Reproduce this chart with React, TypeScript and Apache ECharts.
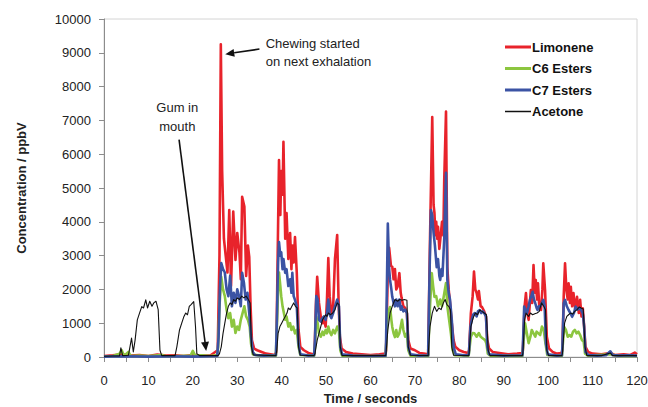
import React, { useEffect, useRef } from "react";
import * as echarts from "echarts";

const seriesNames = ["Limonene", "C6 Esters", "C7 Esters", "Acetone"];
const seriesColors = ["#e8232b", "#8cc63f", "#3b53a4", "#111111"];
const xTicks = { min: 0, max: 120, interval: 5, labelEvery: 10 };
const yTicks = { min: 0, max: 10000, interval: 1000 };

const limonene: [number, number][] = [
  [0,30],[2,50],[4,80],[6,40],[8,60],[10,30],[12,70],[14,40],[16,50],[18,30],[20,60],[22,40],[24,50],[25.6,200],
  [26.0,3000],[26.3,9250],[26.6,5500],[27.0,3500],[27.4,3000],[27.8,2500],[28.2,4350],[28.6,2100],[29.1,4300],[29.6,2870],[30.0,3670],[30.5,3080],[30.8,2300],[31.1,4740],[31.6,4450],[32.0,2400],[32.4,3300],[32.7,2960],[33.0,1500],[33.3,500],[33.8,250],[34.5,200],[35.5,150],[36.5,100],[37.5,80],[38.5,60],
  [38.8,150],[39.1,3000],[39.4,5830],[39.7,4200],[39.9,5500],[40.2,4800],[40.4,6370],[40.8,3500],[41.1,4260],[41.5,2900],[41.9,3670],[42.2,2600],[42.4,3300],[42.7,2800],[43.0,3550],[43.4,2500],[43.8,800],[44.2,300],[45,200],[46,120],[47,80],
  [47.4,100],[47.7,1500],[48.0,2370],[48.4,1600],[48.8,1200],[49.2,1000],[49.5,1100],[49.9,900],[50.2,1700],[50.5,2930],[50.8,1800],[51.2,1300],[51.6,1500],[52.0,2900],[52.5,3610],[52.8,1700],[53.1,600],[53.5,250],[54.5,150],[56,100],[58,80],[60,60],[62,80],[63.4,100],
  [63.5,200],[63.9,2500],[64.2,3230],[64.6,2700],[64.9,2670],[65.2,2300],[65.5,2600],[65.8,2000],[66.1,2080],[66.5,2480],[66.8,1900],[67.0,1750],[67.4,1500],[67.8,1450],[68.2,1300],[68.5,500],[69,250],[70,200],[71,120],[72,100],[73,80],
  [73.0,200],[73.4,3500],[73.9,7100],[74.2,4500],[74.4,4260],[74.6,3600],[74.8,4000],[75.0,3500],[75.2,3850],[75.5,3200],[75.7,3460],[76.1,4000],[76.4,3600],[76.6,5240],[77.0,7260],[77.3,2660],[77.6,2000],[77.9,1600],[78.3,1000],[78.7,500],[79.1,300],[80,200],[81,150],[82,120],
  [82.2,200],[82.6,1300],[83.0,1800],[83.3,2525],[83.6,2000],[83.9,1890],[84.2,1700],[84.4,1950],[84.8,1500],[85.1,1480],[85.6,1350],[86.0,1200],[86.3,500],[86.7,250],[87.5,150],[89,120],[91,80],[93,100],[94.2,120],
  [94.3,200],[94.7,1500],[95.0,1890],[95.3,1300],[95.6,1100],[96.1,1980],[96.4,1600],[96.7,2720],[97.0,1900],[97.2,2280],[97.5,1700],[97.7,2180],[98.0,1500],[98.4,1390],[98.7,2000],[98.9,2770],[99.3,1980],[99.7,600],[100.2,250],[101,150],[102,100],[103,120],
  [103.2,200],[103.5,1800],[103.8,2770],[104.1,2000],[104.4,1700],[104.6,2180],[104.9,1600],[105.1,2080],[105.4,1500],[105.7,1890],[106.1,1400],[106.5,1780],[106.9,1300],[107.2,1690],[107.5,1200],[107.8,1440],[108.1,900],[108.4,300],[109,150],[110,100],[112,80],[114,120],[115,60],[117,80],[118.5,60],[119.5,130],[120,80]
];

const c6Esters: [number, number][] = [
  [0,20],[2,30],[3.5,100],[4,200],[4.5,30],[5.5,150],[6,30],[8,40],[10,30],[13,60],[14,20],[17,30],[19.5,40],[20,180],[20.5,40],[22,50],[24,30],[25.5,60],
  [25.7,300],[26.0,1500],[26.4,2370],[26.8,2000],[27.2,1800],[27.6,1400],[28.0,1150],[28.4,1300],[28.8,900],[29.2,1100],[29.6,710],[30.0,900],[30.4,800],[30.8,1100],[31.2,1300],[31.6,1500],[32.0,1200],[32.4,1100],[32.8,900],[33.1,400],[33.5,80],[35,40],[38.7,40],
  [38.9,800],[39.2,2000],[39.4,2500],[39.7,2100],[39.9,1800],[40.2,1500],[40.5,1300],[40.8,1100],[41.1,1200],[41.5,900],[41.9,1000],[42.2,800],[42.6,900],[43.0,700],[43.4,800],[43.8,300],[44.2,60],[47.3,40],
  [47.5,300],[47.8,1200],[48.1,1000],[48.4,700],[48.8,600],[49.2,750],[49.5,650],[49.9,800],[50.2,700],[50.5,900],[50.8,750],[51.2,650],[51.6,800],[52.0,700],[52.5,900],[52.9,750],[53.2,200],[53.6,40],[58,30],[63.4,30],
  [63.5,300],[63.9,1300],[64.4,1480],[64.7,1100],[64.9,890],[65.2,700],[65.5,590],[65.8,800],[66.1,600],[66.5,700],[66.8,900],[67.1,1100],[67.4,800],[67.8,600],[68.2,700],[68.5,200],[69,40],[73,30],
  [73.0,200],[73.4,1500],[73.8,2480],[74.1,2100],[74.4,1780],[74.8,1800],[75.2,1500],[75.7,1700],[76.1,1500],[76.5,1800],[77.0,2190],[77.3,1500],[77.7,1100],[78.1,700],[78.5,200],[79,50],[82.1,40],
  [82.2,150],[82.6,600],[83.0,710],[83.4,700],[83.9,600],[84.4,710],[84.8,600],[85.3,550],[85.8,500],[86.1,400],[86.4,100],[87,40],[94.2,30],
  [94.3,200],[94.8,1000],[95.2,700],[95.6,410],[96.0,600],[96.3,800],[96.7,700],[97.1,600],[97.4,750],[97.8,700],[98.2,650],[98.6,900],[99.0,800],[99.4,400],[99.8,60],[103.1,30],
  [103.2,200],[103.6,890],[104.0,800],[104.4,600],[104.8,650],[105.2,600],[105.6,750],[106.0,800],[106.4,700],[106.8,750],[107.2,650],[107.6,500],[108.0,450],[108.3,100],[109,40],[114,80],[116,30],[120,30]
];

const c7Esters: [number, number][] = [
  [0,10],[5,20],[10,10],[15,20],[20,10],[25.5,30],
  [25.8,600],[26.1,2000],[26.4,2780],[26.8,2600],[27.2,2500],[27.6,2000],[28.0,1800],[28.4,2400],[28.8,1500],[29.2,1900],[29.6,1600],[30.0,2000],[30.4,1800],[30.8,1500],[31.1,2490],[31.5,2200],[31.9,1700],[32.3,1900],[32.7,1300],[33.1,600],[33.5,150],[34,60],[36,40],[38.7,50],
  [38.9,1000],[39.2,2800],[39.4,3400],[39.7,3000],[39.9,3100],[40.2,2600],[40.4,2900],[40.8,2490],[41.1,2600],[41.5,2100],[41.9,2300],[42.2,1900],[42.4,2490],[42.7,1800],[43.0,1690],[43.4,1500],[43.8,400],[44.2,80],[46,40],[47.3,50],
  [47.5,500],[47.8,1800],[48.1,1700],[48.4,1100],[48.8,1050],[49.2,1150],[49.5,1200],[49.9,1100],[50.2,1300],[50.5,1700],[50.8,1250],[51.2,1150],[51.6,1300],[52.0,1500],[52.5,1700],[52.9,1500],[53.2,300],[53.6,80],[56,40],[60,30],[63.4,40],
  [63.5,400],[63.9,3950],[64.2,2600],[64.4,2280],[64.7,2000],[64.9,1780],[65.2,1600],[65.5,1500],[65.8,1700],[66.1,1500],[66.5,1700],[66.8,1400],[67.0,1500],[67.4,1350],[67.8,1400],[68.2,1300],[68.5,300],[69,80],[71,40],[73,50],
  [73.0,300],[73.3,2500],[73.6,4350],[73.9,4200],[74.2,3670],[74.5,3300],[74.9,2660],[75.2,2900],[75.5,2400],[75.7,2280],[76.0,2600],[76.2,2400],[76.6,3500],[77.0,5450],[77.3,2280],[77.6,1900],[77.9,1700],[78.3,1100],[78.7,300],[79.2,80],[81,50],[82.1,60],
  [82.2,200],[82.5,900],[82.8,1100],[83.1,1250],[83.5,1300],[83.9,1200],[84.2,1350],[84.6,1390],[84.9,1300],[85.3,1350],[85.6,1300],[86.0,1200],[86.3,300],[86.7,80],[90,40],[94.2,50],
  [94.3,300],[94.6,1490],[94.9,1400],[95.2,1290],[95.6,1500],[95.9,1690],[96.2,1800],[96.5,1930],[96.8,1700],[97.1,1590],[97.4,1450],[97.6,1390],[97.9,1500],[98.2,1490],[98.6,1600],[98.9,1690],[99.2,1500],[99.5,400],[99.9,80],[102,40],[103.1,50],
  [103.2,300],[103.5,1590],[103.8,1690],[104.2,1500],[104.6,1390],[105.0,1300],[105.4,1190],[105.8,1300],[106.2,1490],[106.6,1400],[107.0,1450],[107.4,1390],[107.8,1290],[108.1,900],[108.4,150],[109,60],[111,40],[113,50],[114,170],[114.5,60],[116,40],[118,50],[120,40]
];

const acetone: [number, number][] = [
  [0,20],[2,30],[3.5,30],[3.8,270],[4.2,40],[5.5,50],[6.2,560],[6.6,150],[7.0,500],[7.5,1100],[8.0,1300],[8.5,1490],[8.9,1450],[9.4,1690],[9.8,1450],[10.3,1650],[10.8,1500],[11.2,1600],[11.7,1650],[12.2,1400],[12.6,200],[13,40],[16,40],
  [16.4,300],[17,800],[17.5,1000],[18,1200],[18.4,1300],[18.8,1250],[19.2,1500],[19.6,1550],[20.2,1640],[20.6,900],[20.9,100],[21.5,40],[25.7,40],
  [26.0,100],[26.4,300],[26.8,700],[27.2,1000],[27.6,1300],[28.0,1500],[28.4,1600],[28.8,1550],[29.2,1700],[29.6,1650],[30.0,1750],[30.5,1700],[31.0,1800],[31.5,1750],[32.0,1800],[32.5,1700],[32.9,1600],[33.2,300],[33.6,60],[38.7,40],
  [38.9,200],[39.2,700],[39.6,900],[40.0,1000],[40.4,1100],[40.8,1200],[41.2,1300],[41.5,1450],[41.9,1400],[42.3,1500],[42.7,1600],[43.1,1500],[43.5,1450],[43.8,300],[44.2,50],[47.3,40],
  [47.5,100],[48.0,500],[48.4,700],[48.8,900],[49.2,1100],[49.5,1170],[49.9,1250],[50.2,1200],[50.5,1300],[51.0,1250],[51.5,1300],[52.0,1400],[52.5,1600],[52.9,1550],[53.2,300],[53.6,40],[63.4,40],
  [63.5,100],[63.9,800],[64.4,1300],[64.9,1500],[65.5,1700],[66.1,1650],[66.6,1700],[67.1,1680],[67.6,1700],[68.2,1680],[68.5,300],[69,50],[73,40],
  [73.0,100],[73.4,900],[73.9,1300],[74.4,1500],[74.9,1350],[75.4,1450],[75.9,1400],[76.4,1600],[76.8,1700],[77.2,1550],[77.6,1500],[78.0,1400],[78.3,300],[78.7,50],[82.1,40],
  [82.2,100],[82.6,900],[83.1,1150],[83.6,1300],[84.1,1250],[84.6,1390],[85.1,1350],[85.6,1300],[86.1,1250],[86.5,200],[86.9,40],[94.2,40],
  [94.3,100],[94.7,1100],[95.0,1300],[95.6,1200],[96.0,1300],[96.5,1250],[97.0,1280],[97.5,1300],[98.0,1350],[98.5,1600],[99.0,1500],[99.4,1400],[99.7,200],[100.1,40],[103.1,40],
  [103.2,100],[103.7,1000],[104.2,1200],[104.6,1250],[105.0,1300],[105.5,1270],[106.0,1350],[106.5,1400],[107.0,1480],[107.4,1450],[107.9,1420],[108.3,300],[108.7,40],[112,40],[114,120],[114.5,40],[120,40]
];

// annotation anchors in data coordinates [time, ppbV]
const chewText = ["Chewing started", "on next exhalation"];
const chewTextPos: [number, number] = [36.4, 9530];
const chewArrow: [[number, number], [number, number]] = [[35.0, 9110], [27.3, 8960]];
const gumText = ["Gum in", "mouth"];
const gumTextPos: [number, number] = [16.5, 7670];
const gumArrow: [[number, number], [number, number]] = [[16.9, 6430], [23.0, 180]];

const FONT = "'Liberation Sans', Arial, sans-serif";
const widths = [2.6, 2.6, 2.6, 1.1];

export default function App() {
  const ref = useRef<HTMLDivElement>(null);
  useEffect(() => {
    if (!ref.current) return;
    const chart = echarts.init(ref.current, null, { renderer: "svg" });
    const all = [limonene, c6Esters, c7Esters, acetone];
    chart.setOption({
      animation: false,
      backgroundColor: "#ffffff",
      grid: {
        left: 104, right: 11, top: 19, bottom: 50,
        outerBoundsMode: "none", containLabel: false,
        show: true, borderColor: "#d4d4d4", borderWidth: 1, backgroundColor: "transparent",
      },
      xAxis: {
        type: "value", min: xTicks.min, max: xTicks.max, interval: xTicks.interval,
        name: "Time / seconds", nameLocation: "middle", nameGap: 35,
        nameTextStyle: { fontFamily: FONT, fontSize: 13, fontWeight: "bold", color: "#222" },
        axisLine: { show: true, lineStyle: { color: "#8c8c8c", width: 1 } },
        axisTick: { show: true, length: 5, lineStyle: { color: "#8c8c8c" } },
        axisLabel: {
          fontFamily: FONT, fontSize: 13, color: "#222", margin: 17,
          formatter: (v: number) => (v % xTicks.labelEvery === 0 ? String(v) : ""),
        },
        splitLine: { show: false },
      },
      yAxis: {
        type: "value", min: yTicks.min, max: yTicks.max, interval: yTicks.interval,
        name: "Concentration / ppbV", nameLocation: "middle", nameGap: 76, nameRotate: 90,
        nameTextStyle: { fontFamily: FONT, fontSize: 13, fontWeight: "bold", color: "#222" },
        axisLine: { show: true, lineStyle: { color: "#8c8c8c", width: 1 } },
        axisTick: { show: true, length: 5, lineStyle: { color: "#8c8c8c" } },
        axisLabel: { fontFamily: FONT, fontSize: 13, color: "#222", margin: 13, formatter: (v: number) => String(v) },
        splitLine: { show: false },
      },
      series: all.map((d, i) => ({
        name: seriesNames[i], type: "line", data: d, symbol: "none", showSymbol: false,
        lineStyle: { color: seriesColors[i], width: widths[i], join: "round" },
        itemStyle: { color: seriesColors[i] },
        z: 2 + i,
      })),
    });

    const px = (p: [number, number]) => chart.convertToPixel({ gridIndex: 0 }, p) as number[];
    const arrow = (from: [number, number], to: [number, number]) => {
      const a = px(from), b = px(to);
      const dx = b[0] - a[0], dy = b[1] - a[1];
      const len = Math.sqrt(dx * dx + dy * dy);
      const ux = dx / len, uy = dy / len;
      const hl = 9, hw = 4;
      const bx = b[0] - ux * hl, by = b[1] - uy * hl;
      return [
        { type: "line", shape: { x1: a[0], y1: a[1], x2: bx, y2: by }, style: { stroke: "#111", lineWidth: 1.6 }, z: 100 },
        {
          type: "polygon",
          shape: { points: [[b[0], b[1]], [bx - uy * hw, by + ux * hw], [bx + uy * hw, by - ux * hw]] },
          style: { fill: "#111" }, z: 100,
        },
      ];
    };
    const ct = px(chewTextPos);
    const gt = px(gumTextPos);
    // legend (line swatches + labels)
    const legendLeft = 505, legendTop = 47, legendStep = 21.5;
    const legendItems = seriesNames.flatMap((n, i) => [
      {
        type: "line", z: 100,
        shape: { x1: legendLeft, y1: legendTop + i * legendStep, x2: legendLeft + 26, y2: legendTop + i * legendStep },
        style: { stroke: seriesColors[i], lineWidth: widths[i] + 0.4 },
      },
      {
        type: "text", z: 100, x: legendLeft + 27, y: legendTop + i * legendStep,
        style: { text: n, fontFamily: FONT, fontSize: 13, fontWeight: "bold", fill: "#111", textVerticalAlign: "middle" },
      },
    ]);
    chart.setOption({
      graphic: [
        ...arrow(chewArrow[0], chewArrow[1]),
        ...arrow(gumArrow[0], gumArrow[1]),
        ...legendItems,
        {
          type: "text", x: ct[0], y: ct[1], z: 100,
          style: { text: chewText.join("\n"), fontFamily: FONT, fontSize: 13, fill: "#222", lineHeight: 18, textVerticalAlign: "top" },
        },
        {
          type: "text", x: gt[0], y: gt[1], z: 100,
          style: { text: gumText.join("\n"), fontFamily: FONT, fontSize: 13, fill: "#222", lineHeight: 19, align: "center", textVerticalAlign: "top" },
        },
      ],
    });
    return () => chart.dispose();
  }, []);
  return <div ref={ref} style={{ position: "absolute", left: 0, top: 0, width: 648, height: 407 }} />;
}
